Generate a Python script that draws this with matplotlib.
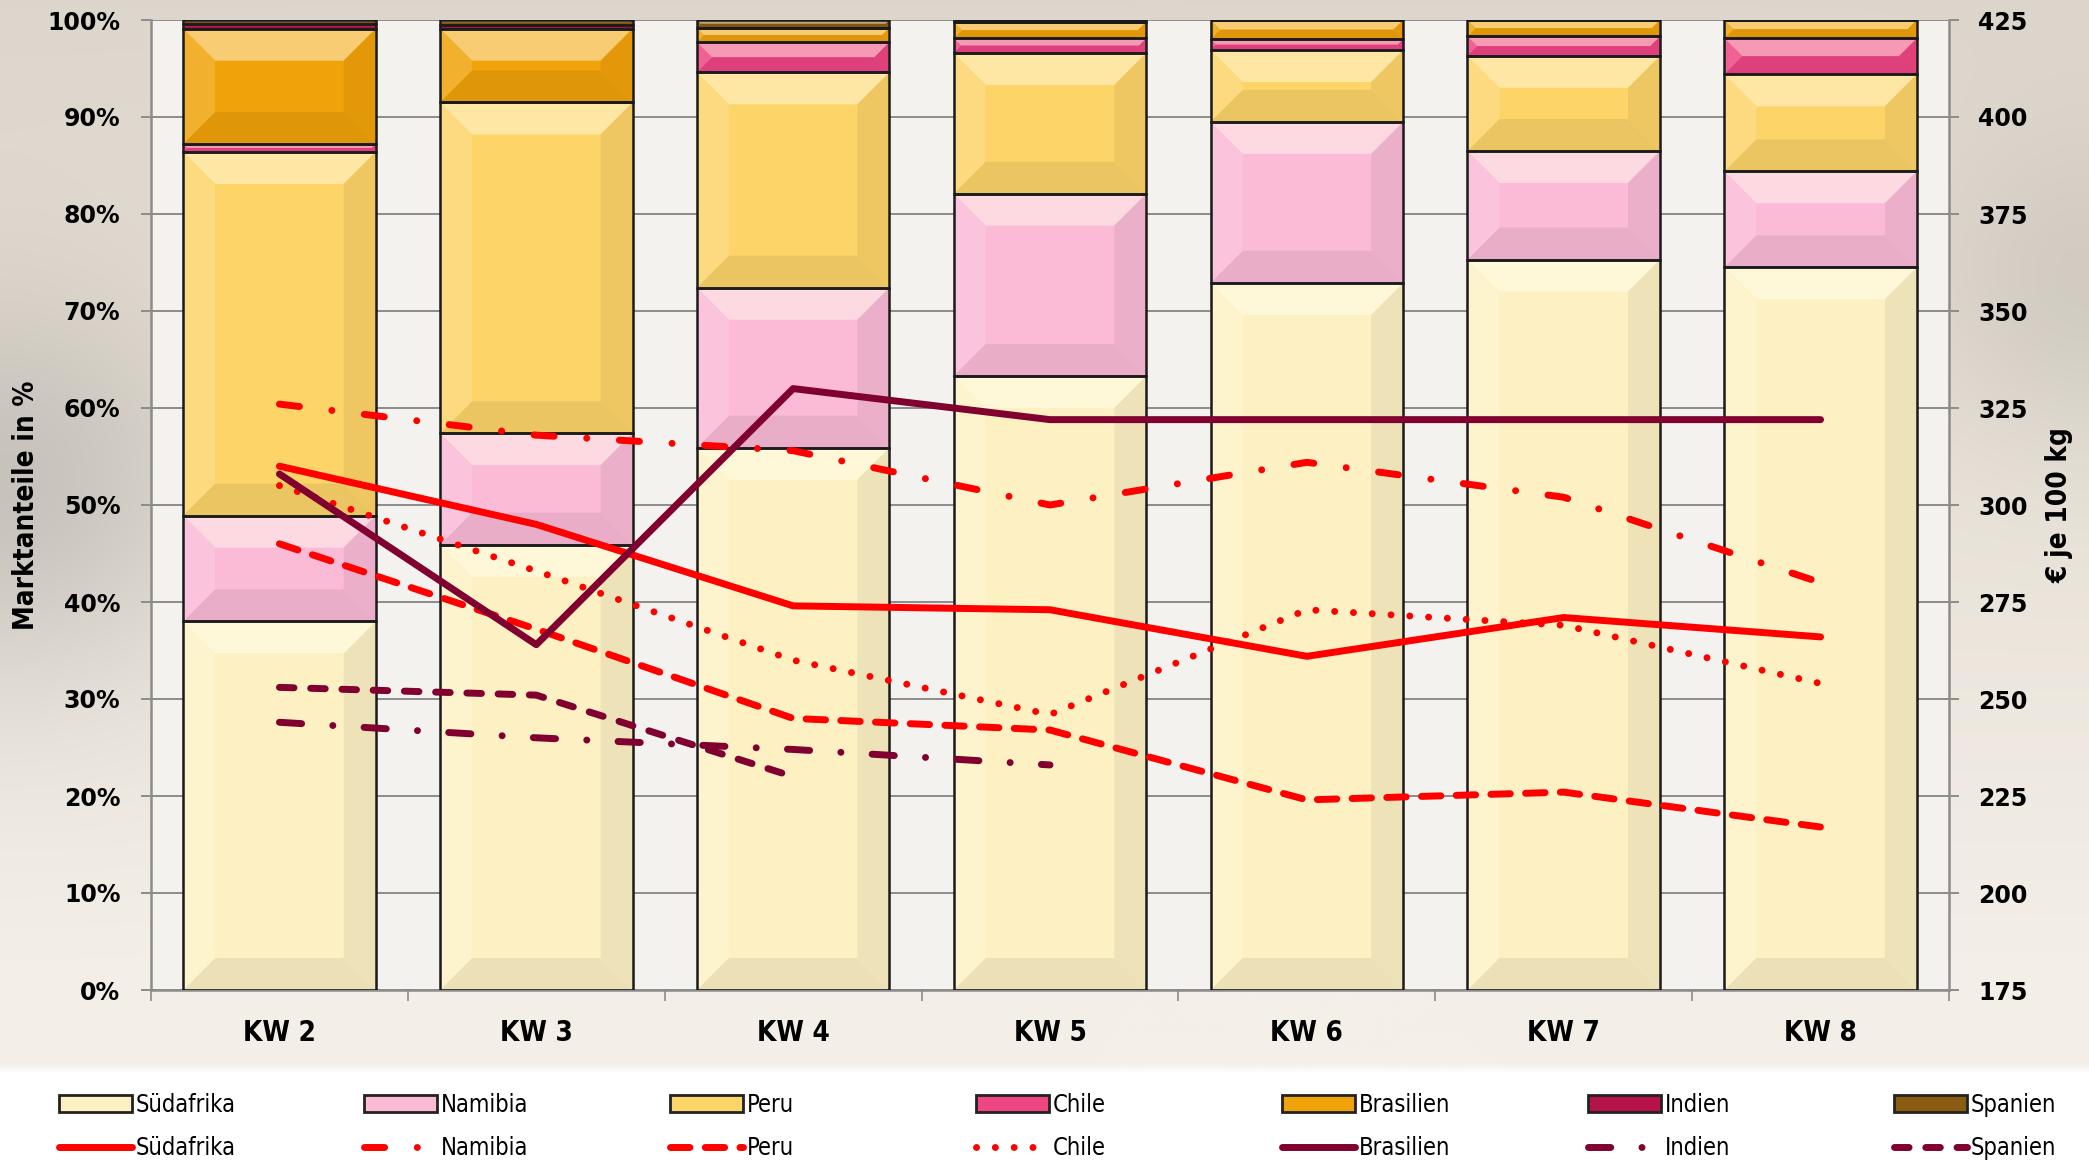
import numpy as np
import matplotlib.pyplot as plt
import matplotlib.colors as mcolors
from matplotlib.patches import Polygon, Patch
from matplotlib.lines import Line2D
from matplotlib import font_manager

# --- data -------------------------------------------------------------
weeks = ['KW 2', 'KW 3', 'KW 4', 'KW 5', 'KW 6', 'KW 7', 'KW 8']
countries = ['Südafrika', 'Namibia', 'Peru', 'Chile', 'Brasilien', 'Indien', 'Spanien']

# market shares in %
share_suedafrika = [38.0, 45.9, 55.9, 63.3, 72.9, 75.3, 74.5]
share_namibia = [10.9, 11.5, 16.5, 18.8, 16.6, 11.2, 9.9]
share_peru = [37.5, 34.1, 22.2, 14.5, 7.4, 9.8, 10.0]
share_chile = [0.8, 0.0, 3.1, 1.5, 1.1, 2.0, 3.7]
share_brasilien = [11.9, 7.6, 1.5, 1.7, 2.0, 1.7, 1.9]
share_indien = [0.5, 0.4, 0.0, 0.0, 0.0, 0.0, 0.0]
share_spanien = [0.4, 0.5, 0.8, 0.2, 0.0, 0.0, 0.0]

# prices in EUR per 100 kg
price_suedafrika = [310, 295, 274, 273, 261, 271, 266]
price_namibia = [326, 318, 314, 300, 311, 302, 280]
price_peru = [290, 268, 245, 242, 224, 226, 217]
price_chile = [305, 283, 260, 246, 273, 269, 254]
price_brasilien = [308, 264, 330, 322, 322, 322, 322]
price_indien = [244, 240, 237, 233, np.nan, np.nan, np.nan]
price_spanien = [253, 251, 230, np.nan, np.nan, np.nan, np.nan]

shares = [share_suedafrika, share_namibia, share_peru, share_chile,
          share_brasilien, share_indien, share_spanien]
prices = [price_suedafrika, price_namibia, price_peru, price_chile,
          price_brasilien, price_indien, price_spanien]

bar_colors = ['#fdf1c4', '#fbbad6', '#fdd468', '#ee4583', '#f0a20a', '#b5134a', '#8b5b12']
line_colors = ['#ff0000', '#ff0000', '#ff0000', '#ff0000', '#800030', '#800030', '#800030']
line_styles = ['-', (0, (2.9, 4.7, 0.01, 4.7)), (0, (2.8, 2.2)), (0, (0.01, 2.7)),
               '-', (0, (3.2, 4.5, 0.01, 4.5)), (0, (2.1, 2.4))]

W, H = 2089, 1168

# condensed face for axis titles, categories and legend, if there is one
cond = font_manager.FontProperties(family='DejaVu Sans', stretch='condensed')
cond_file = font_manager.findfont(cond)
have_cond = 'Condensed' in cond_file
if have_cond:
    narrow = dict(family='DejaVu Sans', stretch='condensed')
    sz_cat, sz_lab, sz_leg = 20, 20, 17
else:
    narrow = dict(family='Liberation Sans')
    sz_cat, sz_lab, sz_leg = 18, 18, 16

fig = plt.figure(figsize=(W / 100, H / 100), dpi=100)

# blurred photo-like background
bg = fig.add_axes([0, 0, 1, 1], zorder=-10)
yy, xx = np.mgrid[0:1:117j, 0:1:209j]
top = np.array(mcolors.to_rgb('#ddd6cc'))
mid = np.array(mcolors.to_rgb('#f4efe7'))
t = np.clip(yy / 0.85, 0, 1)[..., None]
img = top * (1 - t) + mid * t
blob = np.exp(-((xx - 0.0) ** 2 / 0.01 + (yy - 0.42) ** 2 / 0.03))[..., None]
img = img * (1 - 0.14 * blob)
blob2 = np.exp(-((xx - 1.0) ** 2 / 0.006 + (yy - 0.25) ** 2 / 0.02))[..., None]
img = img * (1 - 0.08 * blob2)
img[yy > 0.92] = 1.0
bg.imshow(img, aspect='auto', extent=[0, 1, 0, 1], origin='upper', interpolation='bilinear')
bg.axis('off')

ax = fig.add_axes([151 / W, 1 - 990 / H, 1798 / W, 970 / H])
ax.set_facecolor('#f4f2ee')
x = np.arange(len(weeks))
width = 0.75
ax.set_xlim(-0.5, len(weeks) - 0.5)
ax.set_ylim(0, 100)

px_x = 1798 / len(weeks)
px_y = 970 / 100
bevel = 32


def mix(c, other, f):
    c = np.array(mcolors.to_rgb(c))
    o = np.array(mcolors.to_rgb(other))
    return tuple(c * (1 - f) + o * f)


bottom = np.zeros(len(weeks))
for vals, col in zip(shares, bar_colors):
    bars = ax.bar(x, vals, width, bottom=bottom, color=col, edgecolor='none', zorder=2)
    for b in bars:
        x0, y0, w, h = b.get_x(), b.get_y(), b.get_width(), b.get_height()
        if h <= 0:
            continue
        bs = min(bevel, h * px_y / 2, w * px_x / 2)
        dx, dy = bs / px_x, bs / px_y
        x1, y1 = x0 + w, y0 + h
        faces = [
            ([(x0, y1), (x1, y1), (x1 - dx, y1 - dy), (x0 + dx, y1 - dy)], mix(col, '#fffff0', 0.45)),
            ([(x0, y0), (x1, y0), (x1 - dx, y0 + dy), (x0 + dx, y0 + dy)], mix(col, 'black', 0.07)),
            ([(x0, y0), (x0, y1), (x0 + dx, y1 - dy), (x0 + dx, y0 + dy)], mix(col, 'white', 0.15)),
            ([(x1, y0), (x1, y1), (x1 - dx, y1 - dy), (x1 - dx, y0 + dy)], mix(col, 'black', 0.06)),
        ]
        for pts, fc in faces:
            ax.add_patch(Polygon(pts, closed=True, facecolor=fc, edgecolor='none', zorder=2.5))
    ax.bar(x, vals, width, bottom=bottom, fill=False, edgecolor='#1a1a1a', linewidth=1.8, zorder=3)
    bottom = bottom + np.array(vals)

ax.set_yticks(np.arange(0, 101, 10))
ax.set_yticklabels([f'{v}%' for v in range(0, 101, 10)])
ax.grid(axis='y', color='#8c8c8c', linewidth=1.4, zorder=0)
ax.set_axisbelow(True)
ax.set_xticks(x)
ax.set_xticklabels(weeks)
ax.set_xticks(np.arange(-0.5, len(weeks), 1), minor=True)
ax.tick_params(axis='x', which='major', length=0, pad=21)
ax.tick_params(axis='x', which='minor', length=8, color='#8c8c8c', width=1.2, direction='out')
ax.tick_params(axis='y', length=7, color='#8c8c8c', width=1.4, direction='out', pad=15)
for lab in ax.get_xticklabels():
    lab.set(**narrow)
    lab.set_fontweight('bold')
    lab.set_fontsize(sz_cat)
for lab in ax.get_yticklabels():
    lab.set_fontweight('bold')
    lab.set_fontsize(17)
for side in ['top', 'right']:
    ax.spines[side].set_visible(False)
for side in ['left', 'bottom']:
    ax.spines[side].set_color('#8c8c8c')
    ax.spines[side].set_linewidth(1.8)
ax.set_ylabel('Marktanteile in %', fontweight='bold', fontsize=sz_lab, labelpad=5, **narrow)

ax2 = ax.twinx()
ax2.set_ylim(175, 425)
ax2.set_yticks(np.arange(175, 426, 25))
for vals, col, ls in zip(prices, line_colors, line_styles):
    ax2.plot(x, vals, color=col, linestyle=ls, linewidth=5, solid_capstyle='round',
             dash_capstyle='round', solid_joinstyle='round', zorder=5)
ax2.tick_params(axis='y', length=7, color='#8c8c8c', width=1.4, direction='out', pad=14)
for lab in ax2.get_yticklabels():
    lab.set_fontweight('bold')
    lab.set_fontsize(17)
for side in ['top', 'left', 'bottom']:
    ax2.spines[side].set_visible(False)
ax2.spines['right'].set_color('#8c8c8c')
ax2.spines['right'].set_linewidth(1.8)
ax2.set_ylabel('€ je 100 kg', fontweight='bold', fontsize=sz_lab, labelpad=13, **narrow)

# legend: one small legend per country (bar + line)
col_x = [59, 364, 670, 976, 1282, 1588, 1894]
for i, name in enumerate(countries):
    handles = [Patch(facecolor=bar_colors[i], edgecolor='#222222', linewidth=2),
               Line2D([0], [0], color=line_colors[i], linestyle=line_styles[i], linewidth=5,
                      solid_capstyle='round', dash_capstyle='round')]
    fig.legend(handles, [name, name], loc='upper left',
               bbox_to_anchor=(col_x[i] / W, 1 - 1093 / H), frameon=False,
               borderpad=0, borderaxespad=0, handlelength=3.1, handleheight=0.7,
               handletextpad=0.15, labelspacing=0.8,
               prop=dict(size=sz_leg, **narrow))

fig.savefig('out.png', dpi=100)
